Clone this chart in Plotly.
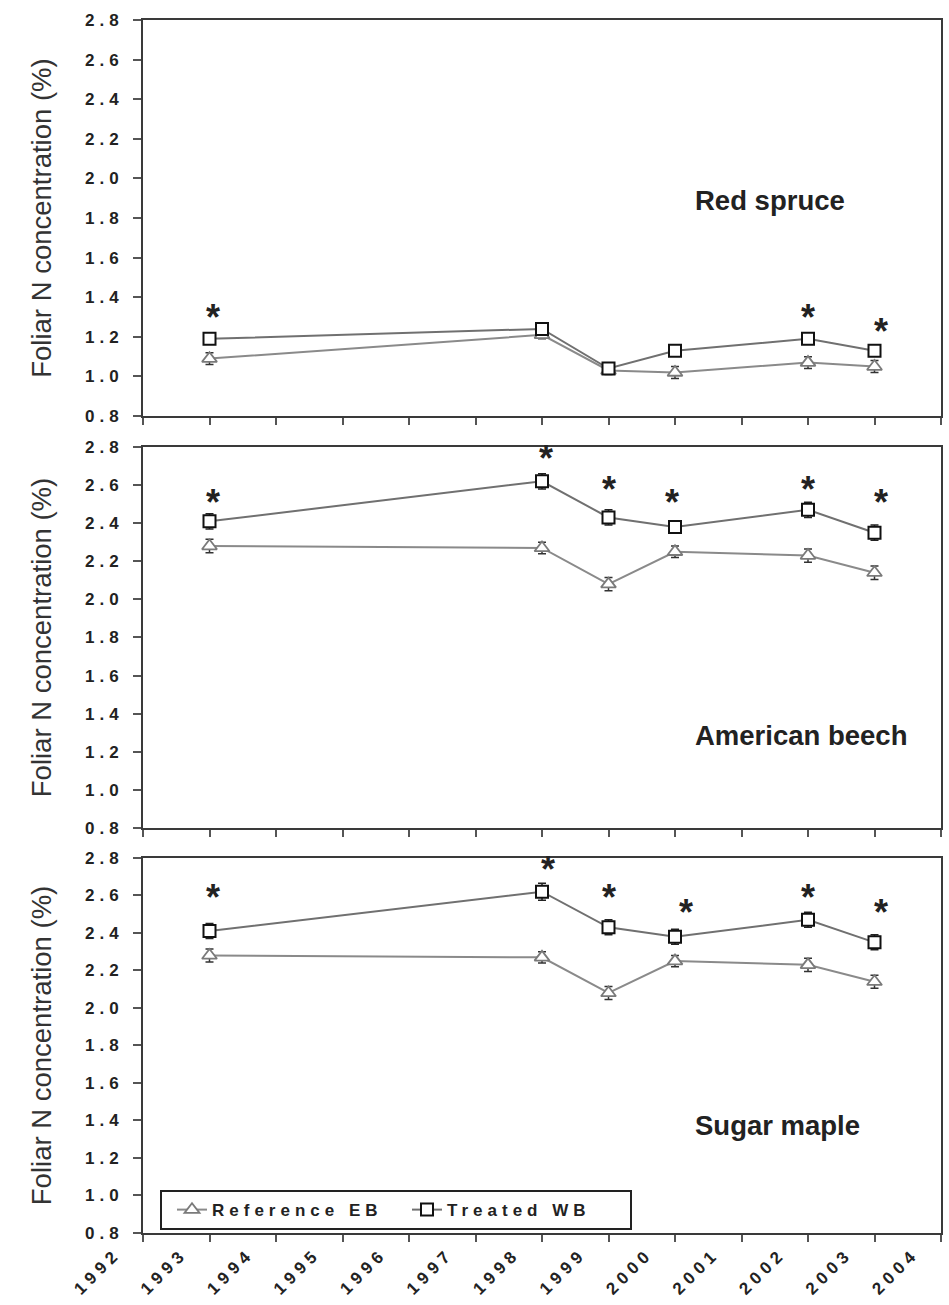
import plotly.graph_objects as go

# ---------------- data ----------------
years = [1993, 1998, 1999, 2000, 2002, 2003]

x_tick_values = [1992, 1993, 1994, 1995, 1996, 1997, 1998, 1999, 2000, 2001, 2002, 2003, 2004]
x_tick_labels = ["1992", "1993", "1994", "1995", "1996", "1997", "1998",
                 "1999", "2000", "2001", "2002", "2003", "2004"]
y_tick_values = [0.8, 1.0, 1.2, 1.4, 1.6, 1.8, 2.0, 2.2, 2.4, 2.6, 2.8]
y_tick_labels = ["0.8", "1.0", "1.2", "1.4", "1.6", "1.8", "2.0", "2.2", "2.4", "2.6", "2.8"]

# Red spruce
spruce_ref = [1.09, 1.21, 1.03, 1.02, 1.07, 1.05]
spruce_ref_err = [0.03, 0.02, 0.02, 0.03, 0.03, 0.03]
spruce_trt = [1.19, 1.24, 1.04, 1.13, 1.19, 1.13]
spruce_trt_err = [0.015, 0.015, 0.015, 0.015, 0.015, 0.015]
spruce_star_x = [1993.05, 2002.0, 2003.1]
spruce_star_y = [1.32, 1.32, 1.245]

# American beech
beech_ref = [2.28, 2.27, 2.08, 2.25, 2.23, 2.14]
beech_ref_err = [0.035, 0.03, 0.035, 0.03, 0.035, 0.035]
beech_trt = [2.41, 2.62, 2.43, 2.38, 2.47, 2.35]
beech_trt_err = [0.04, 0.04, 0.04, 0.03, 0.04, 0.04]
beech_star_x = [1993.05, 1998.06, 1999.0, 1999.95, 2002.0, 2003.1]
beech_star_y = [2.53, 2.76, 2.60, 2.53, 2.60, 2.53]

# Sugar maple
maple_ref = [2.28, 2.27, 2.08, 2.25, 2.23, 2.14]
maple_ref_err = [0.035, 0.03, 0.035, 0.03, 0.035, 0.035]
maple_trt = [2.41, 2.62, 2.43, 2.38, 2.47, 2.35]
maple_trt_err = [0.04, 0.045, 0.04, 0.04, 0.04, 0.04]
maple_star_x = [1993.05, 1998.09, 1999.0, 2000.17, 2002.0, 2003.1]
maple_star_y = [2.61, 2.76, 2.61, 2.53, 2.61, 2.53]

series_names = ["Reference EB", "Treated WB"]
panel_names = ["Red spruce", "American beech", "Sugar maple"]
y_title = "Foliar N concentration (%)"

# ---------------- styling ----------------
FONT = "Liberation Sans, Arial, Helvetica, sans-serif"
DARK = "#222222"

panels = [
    dict(name=panel_names[0], ref=spruce_ref, ref_err=spruce_ref_err, trt=spruce_trt,
         trt_err=spruce_trt_err, sx=spruce_star_x, sy=spruce_star_y,
         domain=[0.6735, 1.0], label_y=0.543),
    dict(name=panel_names[1], ref=beech_ref, ref_err=beech_ref_err, trt=beech_trt,
         trt_err=beech_trt_err, sx=beech_star_x, sy=beech_star_y,
         domain=[0.3339, 0.648], label_y=0.243),
    dict(name=panel_names[2], ref=maple_ref, ref_err=maple_ref_err, trt=maple_trt,
         trt_err=maple_trt_err, sx=maple_star_x, sy=maple_star_y,
         domain=[0.0, 0.3092], label_y=0.287),
]

fig = go.Figure()
layout_axes = {}
annotations = []

for i, p in enumerate(panels):
    n = "" if i == 0 else str(i + 1)
    xa, ya = "x" + n, "y" + n
    first = i == 0
    fig.add_trace(go.Scatter(
        x=years, y=p["ref"], name=series_names[0], xaxis=xa, yaxis=ya,
        mode="lines+markers", showlegend=first, legendgroup="ref",
        line=dict(color="#8a8a8a", width=2),
        marker=dict(symbol="triangle-up", size=13, color="white",
                    line=dict(color="#7a7a7a", width=1.8)),
        error_y=dict(type="data", array=p["ref_err"], visible=True,
                     color="#333333", thickness=1.5, width=4),
    ))
    fig.add_trace(go.Scatter(
        x=years, y=p["trt"], name=series_names[1], xaxis=xa, yaxis=ya,
        mode="lines+markers", showlegend=first, legendgroup="trt",
        line=dict(color="#707070", width=2),
        marker=dict(symbol="square", size=12, color="white",
                    line=dict(color="#111111", width=2)),
        error_y=dict(type="data", array=p["trt_err"], visible=True,
                     color="#222222", thickness=1.5, width=4),
    ))
    for sx, sy in zip(p["sx"], p["sy"]):
        annotations.append(dict(
            x=sx, y=sy, xref=xa, yref=ya, text="*", showarrow=False,
            yshift=-4, font=dict(family=FONT, size=36, color=DARK, weight="bold"),
        ))
    annotations.append(dict(
        x=0.689, y=p["label_y"], xref=xa + " domain", yref=ya + " domain",
        text=p["name"], showarrow=False, xanchor="left", yanchor="middle",
        font=dict(family=FONT, size=27.5, color=DARK, weight="bold"),
    ))

    last = i == len(panels) - 1
    layout_axes["xaxis" + n] = dict(
        domain=[0, 1], anchor=ya, range=[1992, 2004],
        tickmode="array", tickvals=x_tick_values,
        ticktext=x_tick_labels if last else [""] * len(x_tick_values),
        showticklabels=last, tickangle=-45,
        ticklabelshift=-27, ticklabelstandoff=-5,
        ticks="outside", ticklen=7, tickwidth=2, tickcolor="#555555",
        showline=True, linecolor="#3a3a3a", linewidth=2, mirror=True,
        showgrid=False, zeroline=False, automargin=False,
        tickfont=dict(family=FONT, size=17, color=DARK, weight="bold"),
    )
    layout_axes["yaxis" + n] = dict(
        domain=p["domain"], anchor=xa, range=[0.8, 2.8],
        tickmode="array", tickvals=y_tick_values, ticktext=y_tick_labels,
        ticks="outside", ticklen=8, tickwidth=2, tickcolor="#555555",
        ticklabelstandoff=6, automargin=False,
        showline=True, linecolor="#3a3a3a", linewidth=2, mirror=True,
        showgrid=False, zeroline=False,
        tickfont=dict(family=FONT, size=17, color=DARK, weight="bold"),
        title=dict(text=y_title, standoff=40,
                   font=dict(family=FONT, size=27.5, color="#333333")),
    )

fig.update_layout(
    width=949, height=1305,
    margin=dict(l=143, r=8, t=20, b=72),
    paper_bgcolor="white", plot_bgcolor="white",
    showlegend=True,
    legend=dict(
        orientation="h", x=0.0213, y=0.0354, xanchor="left", yanchor="top",
        bgcolor="white", bordercolor=DARK, borderwidth=2,
        entrywidth=178, entrywidthmode="pixels", itemwidth=30, indentation=12,
        font=dict(family=FONT, size=17, color=DARK, weight="bold"),
    ),
    annotations=annotations,
    **layout_axes,
)

post_js = """
document.body.style.margin = '0';
document.body.style.padding = '0';
var gd = document.getElementById('{plot_id}');
function spaceText(){
  gd.querySelectorAll('g[class$="tick"] > text, text.legendtext').forEach(function(t){
    t.style.letterSpacing = '5px';
  });
}
spaceText();
if (gd.on) { gd.on('plotly_afterplot', spaceText); }
"""

fig.write_html("out.html", post_script=post_js, config={"displayModeBar": False})
